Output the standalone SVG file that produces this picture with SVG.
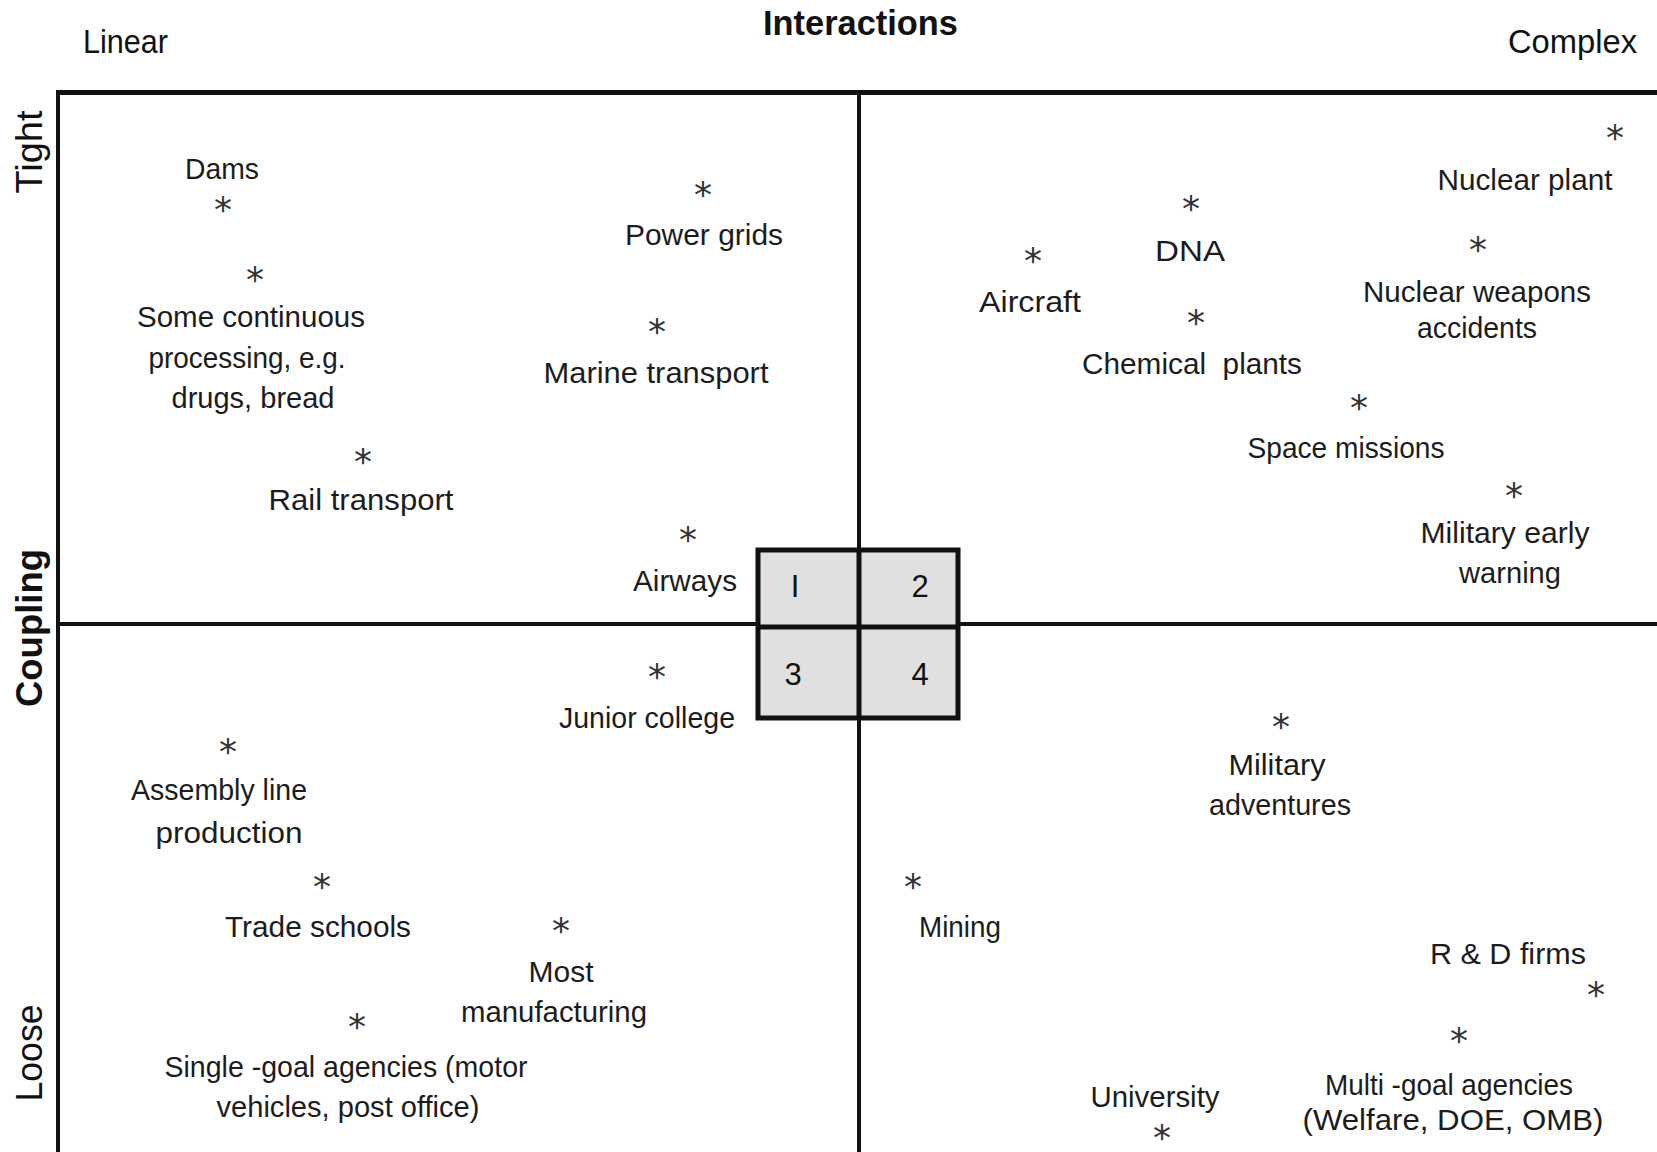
<svg xmlns="http://www.w3.org/2000/svg" width="1657" height="1152" viewBox="0 0 1657 1152">
<style>
.t{font-family:"Liberation Sans",Arial,sans-serif;font-size:29px;fill:#1c1c1c;text-anchor:middle;white-space:pre}
.h{font-family:"Liberation Sans",Arial,sans-serif;font-size:34px;fill:#111;text-anchor:middle}
.hb{font-family:"Liberation Sans",Arial,sans-serif;font-size:35px;font-weight:bold;fill:#111;text-anchor:middle}
.ax{font-family:"Liberation Sans",Arial,sans-serif;font-size:36px;fill:#111;text-anchor:middle}
.axb{font-family:"Liberation Sans",Arial,sans-serif;font-size:37px;font-weight:bold;fill:#111;text-anchor:middle}
.a{font-family:"DejaVu Sans",sans-serif;font-size:36px;fill:#333;text-anchor:middle}
.n{font-family:"Liberation Sans",Arial,sans-serif;font-size:31px;fill:#111;text-anchor:middle}
.ln{stroke:#111;fill:none}
</style>
<rect x="0" y="0" width="1657" height="1152" fill="#fff"/>
<g id="axes">
<line class="ln" x1="56" y1="92.5" x2="1657" y2="92.5" stroke-width="5"/>
<line class="ln" x1="58" y1="90" x2="58" y2="1152" stroke-width="4"/>
<line class="ln" x1="58" y1="624" x2="1657" y2="624" stroke-width="4"/>
<line class="ln" x1="859" y1="92" x2="859" y2="1152" stroke-width="4"/>
</g>
<g id="labels">
<text class="h" x="125.5" y="53" textLength="85" lengthAdjust="spacingAndGlyphs">Linear</text>
<text class="hb" x="860.5" y="35" textLength="195" lengthAdjust="spacingAndGlyphs">Interactions</text>
<text class="h" x="1572.5" y="53" textLength="129" lengthAdjust="spacingAndGlyphs">Complex</text>
<text class="ax" transform="translate(42,152) rotate(-90)" textLength="83" lengthAdjust="spacingAndGlyphs">Tight</text>
<text class="axb" transform="translate(42,628) rotate(-90)" textLength="158" lengthAdjust="spacingAndGlyphs">Coupling</text>
<text class="ax" transform="translate(42,1053) rotate(-90)" textLength="97" lengthAdjust="spacingAndGlyphs">Loose</text>
</g>
<g id="quadrant-box">
<rect x="758" y="550" width="200" height="168" fill="#e0e0e0" stroke="#111" stroke-width="5"/>
<line class="ln" x1="859" y1="550" x2="859" y2="718" stroke-width="5"/>
<line class="ln" x1="758" y1="627" x2="958" y2="627" stroke-width="5"/>
<text class="n" x="795" y="597">I</text>
<text class="n" x="920" y="597">2</text>
<text class="n" x="793" y="685">3</text>
<text class="n" x="920" y="685">4</text>
</g>
<g id="connectors"></g>
<g id="dams"><text class="a" x="223" y="222">*</text><text class="t" x="222" y="179" textLength="74" lengthAdjust="spacingAndGlyphs">Dams</text></g>
<g id="continuous-processing"><text class="a" x="255" y="292">*</text>
<text class="t" x="251" y="327" textLength="228" lengthAdjust="spacingAndGlyphs">Some continuous</text>
<text class="t" x="247" y="368" textLength="197" lengthAdjust="spacingAndGlyphs">processing, e.g.</text>
<text class="t" x="253" y="408" textLength="163" lengthAdjust="spacingAndGlyphs">drugs, bread</text></g>
<g id="rail-transport"><text class="a" x="363" y="474">*</text><text class="t" x="361" y="510" textLength="185" lengthAdjust="spacingAndGlyphs">Rail transport</text></g>
<g id="power-grids"><text class="a" x="703" y="207">*</text><text class="t" x="704" y="245" textLength="158" lengthAdjust="spacingAndGlyphs">Power grids</text></g>
<g id="marine-transport"><text class="a" x="657" y="344">*</text><text class="t" x="656" y="383" textLength="225" lengthAdjust="spacingAndGlyphs">Marine transport</text></g>
<g id="airways"><text class="a" x="688" y="552">*</text><text class="t" x="685" y="591" textLength="104" lengthAdjust="spacingAndGlyphs">Airways</text></g>
<g id="nuclear-plant"><text class="a" x="1615" y="150">*</text><text class="t" x="1525" y="190" textLength="175" lengthAdjust="spacingAndGlyphs">Nuclear plant</text></g>
<g id="dna"><text class="a" x="1191" y="221">*</text><text class="t" x="1190" y="261" textLength="70" lengthAdjust="spacingAndGlyphs">DNA</text></g>
<g id="aircraft"><text class="a" x="1033" y="273">*</text><text class="t" x="1030" y="312" textLength="102" lengthAdjust="spacingAndGlyphs">Aircraft</text></g>
<g id="chemical-plants"><text class="a" x="1196" y="335">*</text><text class="t" x="1192" y="374" textLength="220" lengthAdjust="spacingAndGlyphs">Chemical  plants</text></g>
<g id="nuclear-weapons"><text class="a" x="1478" y="262">*</text>
<text class="t" x="1477" y="302" textLength="228" lengthAdjust="spacingAndGlyphs">Nuclear weapons</text>
<text class="t" x="1477" y="338" textLength="120" lengthAdjust="spacingAndGlyphs">accidents</text></g>
<g id="space-missions"><text class="a" x="1359" y="420">*</text><text class="t" x="1346" y="458" textLength="197" lengthAdjust="spacingAndGlyphs">Space missions</text></g>
<g id="military-early-warning"><text class="a" x="1514" y="508">*</text>
<text class="t" x="1505" y="543" textLength="169" lengthAdjust="spacingAndGlyphs">Military early</text>
<text class="t" x="1510" y="583" textLength="102" lengthAdjust="spacingAndGlyphs">warning</text></g>
<g id="junior-college"><text class="a" x="657" y="689">*</text><text class="t" x="647" y="728" textLength="176" lengthAdjust="spacingAndGlyphs">Junior college</text></g>
<g id="assembly-line"><text class="a" x="228" y="764">*</text>
<text class="t" x="219" y="800" textLength="176" lengthAdjust="spacingAndGlyphs">Assembly line</text>
<text class="t" x="229" y="843" textLength="147" lengthAdjust="spacingAndGlyphs">production</text></g>
<g id="trade-schools"><text class="a" x="322" y="899">*</text><text class="t" x="318" y="937" textLength="186" lengthAdjust="spacingAndGlyphs">Trade schools</text></g>
<g id="most-manufacturing"><text class="a" x="561" y="943">*</text>
<text class="t" x="561" y="982" textLength="65" lengthAdjust="spacingAndGlyphs">Most</text>
<text class="t" x="554" y="1022" textLength="186" lengthAdjust="spacingAndGlyphs">manufacturing</text></g>
<g id="single-goal-agencies"><text class="a" x="357" y="1039">*</text>
<text class="t" x="346" y="1077" textLength="363" lengthAdjust="spacingAndGlyphs">Single -goal agencies (motor</text>
<text class="t" x="348" y="1117" textLength="263" lengthAdjust="spacingAndGlyphs">vehicles, post office)</text></g>
<g id="military-adventures"><text class="a" x="1281" y="739">*</text>
<text class="t" x="1277" y="775" textLength="97" lengthAdjust="spacingAndGlyphs">Military</text>
<text class="t" x="1280" y="815" textLength="142" lengthAdjust="spacingAndGlyphs">adventures</text></g>
<g id="mining"><text class="a" x="913" y="899">*</text><text class="t" x="960" y="937" textLength="82" lengthAdjust="spacingAndGlyphs">Mining</text></g>
<g id="rd-firms"><text class="t" x="1508" y="964" textLength="156" lengthAdjust="spacingAndGlyphs">R &amp; D firms</text><text class="a" x="1596" y="1007">*</text></g>
<g id="multi-goal-agencies"><text class="a" x="1459" y="1053">*</text>
<text class="t" x="1449" y="1095" textLength="248" lengthAdjust="spacingAndGlyphs">Multi -goal agencies</text>
<text class="t" x="1453" y="1130" textLength="301" lengthAdjust="spacingAndGlyphs">(Welfare, DOE, OMB)</text></g>
<g id="university"><text class="t" x="1155" y="1107" textLength="129" lengthAdjust="spacingAndGlyphs">University</text><text class="a" x="1162" y="1150">*</text></g>
</svg>
